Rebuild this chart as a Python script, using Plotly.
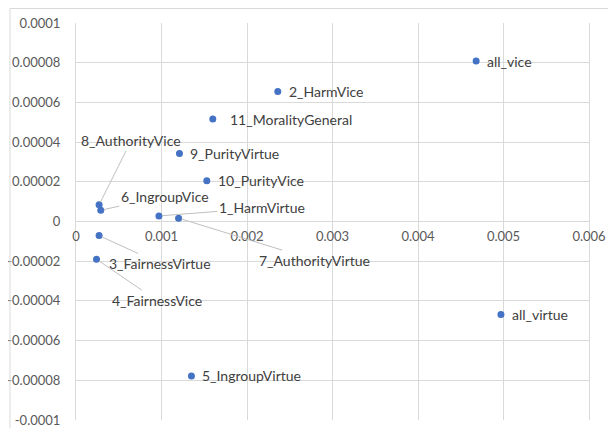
import plotly.graph_objects as go

# ---- data ----
labels = ["1_HarmVirtue", "2_HarmVice", "3_FairnessVirtue", "4_FairnessVice",
          "5_IngroupVirtue", "6_IngroupVice", "7_AuthorityVirtue", "8_AuthorityVice",
          "9_PurityVirtue", "10_PurityVice", "11_MoralityGeneral", "all_vice", "all_virtue"]
x_vals = [0.00097, 0.00236, 0.00027, 0.00024,
          0.00135, 0.00029, 0.00120, 0.00027,
          0.00121, 0.00153, 0.00160, 0.00468, 0.00497]
y_vals = [0.0000028, 0.0000655, -0.0000071, -0.000019,
          -0.0000778, 0.0000057, 0.0000017, 0.0000084,
          0.0000343, 0.0000205, 0.0000516, 0.0000808, -0.0000469]

x_tick_vals = [0, 0.001, 0.002, 0.003, 0.004, 0.005, 0.006]
x_tick_text = ["0", "0.001", "0.002", "0.003", "0.004", "0.005", "0.006"]
y_tick_vals = [-0.0001, -0.00008, -0.00006, -0.00004, -0.00002, 0,
               0.00002, 0.00004, 0.00006, 0.00008, 0.0001]
y_tick_text = ["-0.0001", "-0.00008", "-0.00006", "-0.00004", "-0.00002", "0",
               "0.00002", "0.00004", "0.00006", "0.00008", "0.0001"]

# ---- label placement (layout only) ----
leader_offsets = {  # pixel offset of label centre from its point
    "8_AuthorityVice": (32, -64),
    "6_IngroupVice": (64, -14),
    "1_HarmVirtue": (103, -8),
    "7_AuthorityVirtue": (136, 42),
    "3_FairnessVirtue": (61, 28),
    "4_FairnessVice": (60, 41),
}
right_shift = {"11_MoralityGeneral": 15}

FONT = "Lato, 'Open Sans', sans-serif"
GRID = "#D9D9D9"
LABEL_COLOR = "#404040"
TICK_COLOR = "#595959"

fig = go.Figure()
fig.add_trace(go.Scatter(
    x=x_vals, y=y_vals, mode="markers",
    marker=dict(size=7, color="#4472C4"),
    hoverinfo="skip", showlegend=False,
))

annotations = []
for lab, xv, yv in zip(labels, x_vals, y_vals):
    if lab in leader_offsets:
        ax, ay = leader_offsets[lab]
        annotations.append(dict(
            x=xv, y=yv, xref="x", yref="y", text=lab, showarrow=True,
            ax=ax, ay=ay, arrowhead=0, arrowwidth=1, arrowcolor="#BFBFBF",
            standoff=3, font=dict(family=FONT, size=14, color=LABEL_COLOR),
        ))
    else:
        annotations.append(dict(
            x=xv, y=yv, xref="x", yref="y", text=lab, showarrow=False,
            xanchor="left", yanchor="middle", xshift=right_shift.get(lab, 9),
            font=dict(family=FONT, size=14, color=LABEL_COLOR),
        ))

fig.update_layout(
    width=608, height=420,
    margin=dict(l=68, r=27, t=15, b=8),
    paper_bgcolor="white", plot_bgcolor="white",
    font=dict(family=FONT, size=13, color=TICK_COLOR),
    annotations=annotations,
    hovermode=False,
    xaxis=dict(
        range=[0, 0.006], tickvals=x_tick_vals, ticktext=x_tick_text,
        showgrid=True, gridcolor=GRID, gridwidth=1, zeroline=False,
        showline=False, anchor="free", position=0.5, ticks="", automargin=False,
        ticklabelstandoff=5, tickfont=dict(family=FONT, size=13, color=TICK_COLOR),
    ),
    yaxis=dict(
        range=[-0.0001, 0.0001], tickvals=y_tick_vals, ticktext=y_tick_text,
        showgrid=True, gridcolor=GRID, gridwidth=1, zeroline=False,
        showline=True, mirror=True, linecolor=GRID, ticks="", automargin=False,
        ticklabelstandoff=12, tickfont=dict(family=FONT, size=13, color=TICK_COLOR),
    ),
    shapes=[dict(type="rect", xref="paper", yref="paper",
                 x0=-0.1287, x1=1.0442, y0=-0.06, y1=1.0365,
                 line=dict(color=GRID, width=1), layer="above")],
)

fig.write_html("out.html")
